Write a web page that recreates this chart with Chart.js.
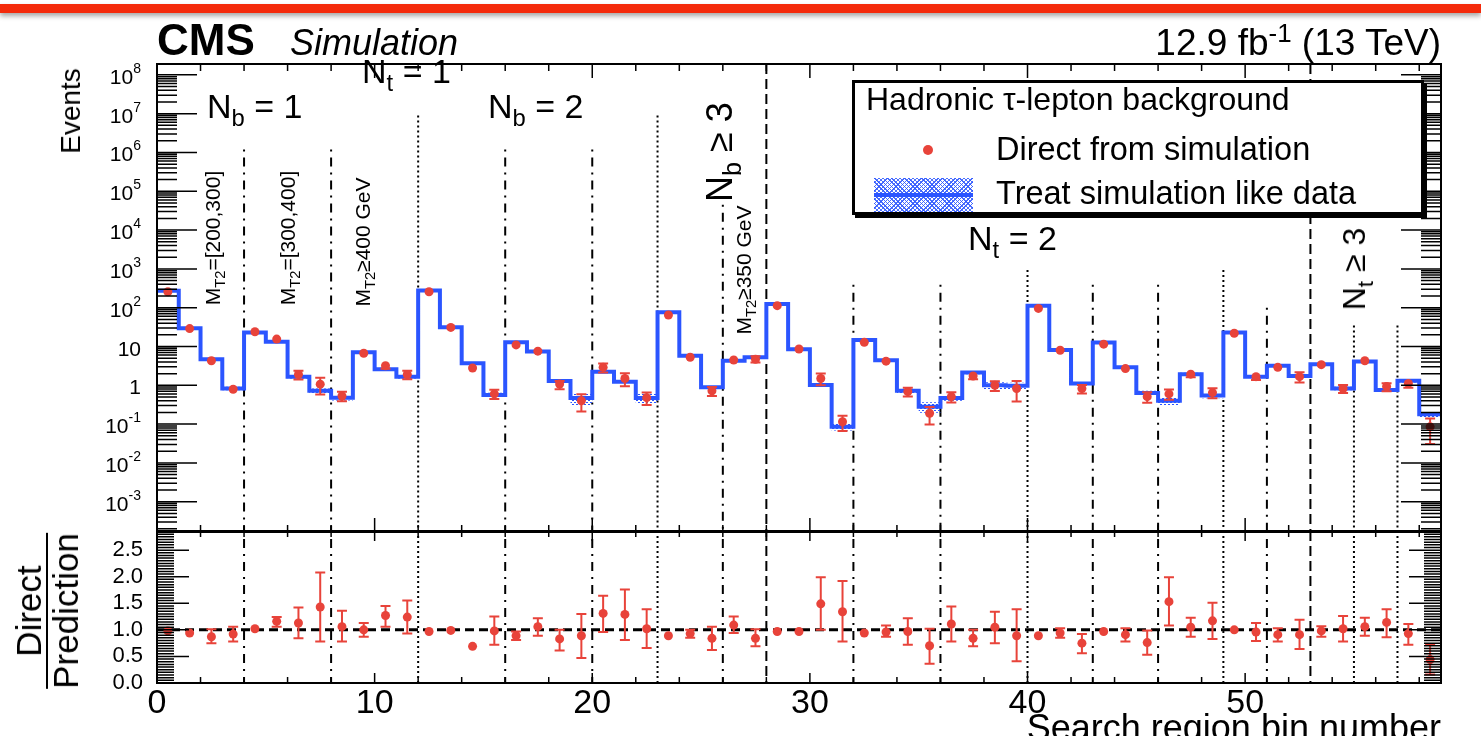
<!DOCTYPE html>
<html lang="en">
<head>
<meta charset="utf-8">
<title>Hadronic tau-lepton background</title>
<script src="https://cdn.jsdelivr.net/npm/chart.js@4.4.1/dist/chart.umd.min.js"></script>
<style>
html, body { margin: 0; padding: 0; background: #fff; }
body { position: relative; width: 1481px; height: 736px; overflow: hidden;
  font-family: "Liberation Sans", Arial, Helvetica, sans-serif; color: #000; }
.slidebar { position: absolute; left: 0; top: 4px; width: 1481px; height: 9px; background: #f42a0b;
  box-shadow: 0 3px 5px rgba(0, 0, 0, 0.35); }
canvas { position: absolute; left: 0; }
#mainPad { top: 0; }
#ratioPad { top: 520px; }
.t { position: absolute; white-space: nowrap; line-height: 1; }
.r { position: absolute; white-space: nowrap; line-height: 1; transform: translate(-50%, -50%) rotate(-90deg); }
sub, sup { font-size: 70%; line-height: 0; position: relative; vertical-align: baseline; }
sub { top: 0.35em; }
sup { top: -0.5em; }
.legend { position: absolute; left: 852px; top: 80px; width: 566px; height: 129px;
  border: 3px solid #000; box-shadow: 3px 3px 0 #000; background: #fff; }
.hatch { position: absolute;
  background:
    repeating-linear-gradient(45deg, rgba(43, 85, 255, 0.85) 0 1px, transparent 1px 3px),
    repeating-linear-gradient(-45deg, rgba(43, 85, 255, 0.85) 0 1px, transparent 1px 3px); }
</style>
</head>
<body>
<div class="slidebar"></div>
<canvas id="mainPad" width="1481" height="540"></canvas>
<canvas id="ratioPad" width="1481" height="216"></canvas>

<!-- header -->
<div class="t" style="left:157px;top:18px;font-size:44px;font-weight:bold">CMS</div>
<div class="t" style="left:290px;top:25px;font-size:36px;font-style:italic">Simulation</div>
<div class="t" style="right:40px;top:24px;font-size:37px">12.9 fb<sup>-1</sup> (13 TeV)</div>

<!-- axis titles -->
<div class="r" style="left:71px;top:111px;font-size:28px">Events</div>
<div class="r" style="left:47px;top:611px;font-size:35px;text-align:center">
  <div style="border-bottom:2px solid #000">Direct</div>
  <div>Prediction</div>
</div>
<div class="t" style="right:40px;top:710px;font-size:36px">Search region bin number</div>

<!-- region labels -->
<div class="t" style="left:207px;top:89px;font-size:34px">N<sub>b</sub> = 1</div>
<div class="t" style="left:362px;top:54px;font-size:34px">N<sub>t</sub> = 1</div>
<div class="t" style="left:488px;top:89px;font-size:34px">N<sub>b</sub> = 2</div>
<div class="r" style="left:720px;top:152px;font-size:36px">N<sub>b</sub> ≥ 3</div>
<div class="t" style="left:968px;top:221px;font-size:34px">N<sub>t</sub> = 2</div>
<div class="r" style="left:1354px;top:269px;font-size:32px">N<sub>t</sub> ≥ 3</div>
<div class="r" style="left:212px;top:238px;font-size:21px">M<sub>T2</sub>=[200,300]</div>
<div class="r" style="left:287px;top:238px;font-size:21px">M<sub>T2</sub>=[300,400]</div>
<div class="r" style="left:362px;top:242px;font-size:21px">M<sub>T2</sub>≥400 GeV</div>
<div class="r" style="left:743px;top:270px;font-size:21px">M<sub>T2</sub>≥350 GeV</div>

<!-- legend -->
<div class="legend"></div>
<div class="t" style="left:866px;top:83px;font-size:32px">Hadronic τ-lepton background</div>
<div style="position:absolute;left:923px;top:145px;width:10px;height:10px;border-radius:50%;background:#e8433a"></div>
<div class="t" style="left:996px;top:133px;font-size:32.5px">Direct from simulation</div>
<div class="hatch" style="left:874px;top:178px;width:99px;height:34px"></div>
<div style="position:absolute;left:874px;top:193px;width:99px;height:4px;background:#2b55ff"></div>
<div class="t" style="left:996px;top:177px;font-size:32.5px">Treat simulation like data</div>

<script>
Chart.defaults.font.family = '"Liberation Sans", Arial, Helvetica, sans-serif';
Chart.defaults.color = '#000';

const FONT = '"Liberation Sans", Arial, Helvetica, sans-serif';
const BLUE = '#2b55ff';
const RED = '#e8433a';

// search region bins 0..58
const nBins = 59;
const binIndex = Array.from({ length: nBins }, (_, i) => i);

// "Treat simulation like data" (blue histogram)
const predicted = [275, 29.5, 4.7, 0.83, 23, 13.3, 1.67, 0.72, 0.48, 7.1,
  2.6, 1.67, 277, 31.5, 3.7, 0.56, 12.8, 7.4, 1.3, 0.47,
  2.24, 1.23, 0.47, 76, 5.8, 0.89, 4.3, 5.3, 125, 8.5,
  1.02, 0.085, 14.7, 4.4, 0.72, 0.28, 0.47, 2.13, 1.0, 0.97,
  113, 8.1, 1.12, 12.6, 2.9, 0.63, 0.40, 1.94, 0.55, 23,
  1.67, 3.2, 1.74, 3.5, 0.83, 4.1, 0.76, 1.32, 0.18];

// relative width of the hatched uncertainty band
const bandFrac = [0.05, 0.05, 0.08, 0.1, 0.05, 0.05, 0.1, 0.15, 0.15, 0.05,
  0.08, 0.1, 0.05, 0.05, 0.08, 0.15, 0.05, 0.05, 0.1, 0.35,
  0.1, 0.12, 0.3, 0.05, 0.05, 0.12, 0.05, 0.05, 0.05, 0.05,
  0.12, 0.2, 0.05, 0.05, 0.12, 0.3, 0.15, 0.1, 0.2, 0.2,
  0.05, 0.05, 0.1, 0.05, 0.08, 0.15, 0.25, 0.08, 0.15, 0.05,
  0.08, 0.08, 0.1, 0.05, 0.1, 0.05, 0.1, 0.1, 0.15];

// "Direct from simulation" (red points)
const direct = [258, 29, 4.3, 0.79, 24, 15.5, 1.9, 1.07, 0.53, 6.7,
  3.2, 1.9, 257, 31, 2.8, 0.6, 11, 7.6, 1.08, 0.40,
  2.9, 1.5, 0.48, 65, 5.3, 0.72, 4.5, 4.7, 113, 8.6,
  1.5, 0.115, 12.8, 4.2, 0.69, 0.19, 0.51, 1.74, 1.0, 0.83,
  96, 8, 0.83, 11.5, 2.7, 0.51, 0.6, 1.94, 0.65, 22,
  1.67, 2.9, 1.67, 3.4, 0.83, 4.3, 0.93, 1.12, 0.085];

// Direct / Prediction with its error bar ends
const ratio = [0.98, 0.94, 0.87, 0.92, 1.02, 1.16, 1.13, 1.43, 1.06, 1.00,
  1.27, 1.24, 0.97, 0.99, 0.69, 0.98, 0.89, 1.06, 0.83, 0.89,
  1.31, 1.29, 1.02, 0.89, 0.93, 0.84, 1.09, 0.84, 0.97, 0.97,
  1.49, 1.34, 0.94, 0.96, 0.97, 0.70, 1.11, 0.84, 1.05, 0.89,
  0.89, 0.94, 0.75, 0.97, 0.91, 0.76, 1.53, 1.05, 1.17, 1.00,
  0.96, 0.91, 0.91, 0.98, 1.02, 1.06, 1.14, 0.93, 0.44];
const ratioLow = [0.96, 0.92, 0.75, 0.78, 1.00, 1.06, 0.84, 0.78, 0.78, 0.87,
  1.06, 0.93, 0.95, 0.97, 0.64, 0.72, 0.81, 0.89, 0.61, 0.47,
  0.96, 0.81, 0.66, 0.87, 0.85, 0.62, 0.94, 0.69, 0.95, 0.95,
  1.00, 0.78, 0.92, 0.87, 0.72, 0.36, 0.78, 0.69, 0.75, 0.41,
  0.87, 0.85, 0.56, 0.95, 0.78, 0.53, 1.08, 0.87, 0.83, 0.98,
  0.79, 0.78, 0.64, 0.87, 0.78, 0.89, 0.86, 0.72, 0.16];
const ratioHigh = [1.00, 0.96, 1.01, 1.06, 1.04, 1.24, 1.42, 2.08, 1.36, 1.13,
  1.45, 1.55, 0.99, 1.01, 0.74, 1.25, 0.97, 1.22, 1.00, 1.30,
  1.64, 1.76, 1.39, 0.91, 1.00, 1.06, 1.25, 1.01, 0.99, 0.99,
  1.99, 1.92, 0.96, 1.08, 1.22, 1.02, 1.44, 1.00, 1.34, 1.39,
  0.91, 1.03, 0.92, 0.99, 1.03, 0.99, 1.99, 1.23, 1.51, 1.02,
  1.13, 1.03, 1.19, 1.07, 1.26, 1.23, 1.39, 1.11, 0.72];

const yTickVals = [1e-3, 1e-2, 1e-1, 1, 10, 1e2, 1e3, 1e4, 1e5, 1e6, 1e7, 1e8];
const yTickLabels = [['10', '-3'], ['10', '-2'], ['10', '-1'], ['1', ''], ['10', ''], ['10', '2'],
  ['10', '3'], ['10', '4'], ['10', '5'], ['10', '6'], ['10', '7'], ['10', '8']];
const xTickVals = [0, 10, 20, 30, 40, 50];
const ratioTickVals = [0, 0.5, 1, 1.5, 2, 2.5];
const ratioTickLabels = ['0.0', '0.5', '1.0', '1.5', '2.0', '2.5'];

// group boundaries: bin edge, line style, and the Events level where the line starts
const dividers = [
  { bin: 4, style: 'dashdot', from: 1.2e6 },
  { bin: 8, style: 'dashdot', from: 1.2e6 },
  { bin: 12, style: 'dotted', from: 9e6 },
  { bin: 16, style: 'dashdot', from: 1.2e6 },
  { bin: 20, style: 'dashdot', from: 1.2e6 },
  { bin: 23, style: 'dotted', from: 9e6 },
  { bin: 26, style: 'dashdot', from: 4.5e4 },
  { bin: 28, style: 'dashed', from: 1e9 },
  { bin: 32, style: 'dashdot', from: 390 },
  { bin: 36, style: 'dashdot', from: 390 },
  { bin: 40, style: 'dotted', from: 930 },
  { bin: 43, style: 'dashdot', from: 390 },
  { bin: 46, style: 'dashdot', from: 390 },
  { bin: 49, style: 'dotted', from: 930 },
  { bin: 51, style: 'dashdot', from: 100 },
  { bin: 53, style: 'dashed', from: 1e9 },
  { bin: 55, style: 'dotted', from: 35 },
  { bin: 57, style: 'dotted', from: 35 }
];
const lineDash = { dotted: [2, 3], dashdot: [2, 6, 9, 6], dashed: [10, 5] };

function hatchPattern() {
  const c = document.createElement('canvas');
  c.width = 4; c.height = 4;
  const g = c.getContext('2d');
  g.fillStyle = BLUE;
  g.fillRect(0, 0, 2, 1);
  g.fillRect(2, 2, 2, 1);
  return g.createPattern(c, 'repeat');
}

// histogram outline: one point per lower bin edge, plus the closing edge
function steps(values) {
  const pts = binIndex.map(i => ({ x: i, y: values[i] }));
  pts.push({ x: nBins, y: values[nBins - 1] });
  return pts;
}

function drawErrors(chart, vals, lo, hi) {
  const { ctx, scales: { x, y } } = chart;
  ctx.save();
  ctx.setLineDash([]);
  ctx.strokeStyle = RED;
  ctx.lineWidth = 2;
  vals.forEach((v, i) => {
    const px = x.getPixelForValue(i + 0.5);
    const p0 = y.getPixelForValue(v);
    const pl = y.getPixelForValue(lo[i]);
    const ph = y.getPixelForValue(hi[i]);
    ctx.beginPath();
    ctx.moveTo(px, pl);
    ctx.lineTo(px, ph);
    if (pl - p0 > 3) { ctx.moveTo(px - 5, pl); ctx.lineTo(px + 5, pl); }
    if (p0 - ph > 3) { ctx.moveTo(px - 5, ph); ctx.lineTo(px + 5, ph); }
    ctx.stroke();
  });
  ctx.restore();
}

const rootPad = {
  id: 'rootPad',
  beforeDatasetsDraw(chart, args, opts) {
    const { ctx, chartArea: a, scales: { x, y } } = chart;
    ctx.save();
    ctx.strokeStyle = '#000';
    ctx.lineWidth = 2;
    dividers.forEach(d => {
      const px = x.getPixelForValue(d.bin);
      const top = opts.panel === 'main' ? Math.max(a.top, y.getPixelForValue(d.from)) : a.top;
      ctx.setLineDash(lineDash[d.style]);
      ctx.beginPath();
      ctx.moveTo(px, top);
      ctx.lineTo(px, a.bottom);
      ctx.stroke();
    });
    if (opts.panel === 'ratio') {
      ctx.setLineDash([9, 5]);
      ctx.lineWidth = 3;
      const py = y.getPixelForValue(1);
      ctx.beginPath();
      ctx.moveTo(a.left, py);
      ctx.lineTo(a.right, py);
      ctx.stroke();
      drawErrors(chart, ratio, ratioLow, ratioHigh);
    }
    ctx.restore();
  },
  afterDatasetDraw(chart, args, opts) {
    if (opts.panel !== 'main' || chart.data.datasets[args.index].id !== 'pred') return;
    const lo = direct.map((v, i) => v * ratioLow[i] / ratio[i]);
    const hi = direct.map((v, i) => v * ratioHigh[i] / ratio[i]);
    drawErrors(chart, direct, lo, hi);
  },
  afterDraw(chart, args, opts) {
    const { ctx, chartArea: a, scales: { x, y } } = chart;
    const main = opts.panel === 'main';
    ctx.save();
    ctx.strokeStyle = '#000';
    ctx.setLineDash([]);

    // x ticks, inside, top and bottom
    ctx.lineWidth = 1.5;
    ctx.beginPath();
    for (let v = 2; v < nBins; v += 2) {
      const px = x.getPixelForValue(v);
      const len = v % 10 === 0 ? (main ? 14 : 10) : (main ? 7 : 6);
      ctx.moveTo(px, a.bottom); ctx.lineTo(px, a.bottom - len);
      ctx.moveTo(px, a.top); ctx.lineTo(px, a.top + len);
    }
    // y ticks, inside, left and right
    if (main) {
      for (let k = -4; k <= 8; k++) {
        for (let m = 1; m <= 9; m++) {
          const v = m * Math.pow(10, k);
          if (v < y.min || v > y.max) continue;
          const py = y.getPixelForValue(v);
          const len = m === 1 ? 40 : 20;
          ctx.moveTo(a.left, py); ctx.lineTo(a.left + len, py);
          ctx.moveTo(a.right, py); ctx.lineTo(a.right - len, py);
        }
      }
    } else {
      for (let j = 1; j * 0.05 < y.max; j++) {
        const py = y.getPixelForValue(j * 0.05);
        const len = j % 10 === 0 ? 32 : 17;
        ctx.moveTo(a.left, py); ctx.lineTo(a.left + len, py);
        ctx.moveTo(a.right, py); ctx.lineTo(a.right - len, py);
      }
    }
    ctx.stroke();

    // frame
    ctx.lineWidth = 2;
    ctx.strokeRect(a.left, a.top, a.right - a.left, a.bottom - a.top);

    // log axis labels with exponents
    if (main) {
      ctx.fillStyle = '#000';
      ctx.textAlign = 'right';
      ctx.textBaseline = 'alphabetic';
      yTickVals.forEach((v, i) => {
        const py = y.getPixelForValue(v);
        const [base, exp] = yTickLabels[i];
        let xr = a.left - 16;
        if (exp) {
          ctx.font = '14px ' + FONT;
          ctx.fillText(exp, xr, py - 2);
          xr -= ctx.measureText(exp).width;
        }
        ctx.font = '21px ' + FONT;
        ctx.fillText(base, xr, py + 9);
      });
    }
    ctx.restore();
  }
};

// keep the plot frame exactly where the layout padding puts it
function fixWidth(s) {
  s.width = 157;
  s.paddingTop = 0;
  s.paddingBottom = 0;
}
function fixHeight(s) {
  s.height = 53;
  s.paddingLeft = 0;
  s.paddingRight = 0;
}

const band = hatchPattern();

new Chart(document.getElementById('mainPad'), {
  type: 'line',
  data: {
    datasets: [
      {
        id: 'bandUp',
        data: steps(predicted.map((v, i) => v * (1 + bandFrac[i]))),
        stepped: 'before', borderWidth: 0, pointRadius: 0, fill: false, order: 3
      },
      {
        id: 'bandDown',
        data: steps(predicted.map((v, i) => v * (1 - bandFrac[i]))),
        stepped: 'before', borderWidth: 0, pointRadius: 0, fill: '-1', backgroundColor: band, order: 3
      },
      {
        id: 'pred',
        label: 'Treat simulation like data',
        data: steps(predicted),
        stepped: 'before', borderColor: BLUE, borderWidth: 4, pointRadius: 0, fill: false, order: 2
      },
      {
        id: 'direct',
        label: 'Direct from simulation',
        data: binIndex.map(i => ({ x: i + 0.5, y: direct[i] })),
        showLine: false, pointRadius: 4.5, pointBorderWidth: 0,
        pointBackgroundColor: RED, pointBorderColor: RED, order: 1
      }
    ]
  },
  options: {
    responsive: false,
    animation: false,
    layout: { padding: { top: 64, right: 40, bottom: 8, left: 0 } },
    plugins: {
      legend: { display: false },
      tooltip: { enabled: false },
      rootPad: { panel: 'main' }
    },
    scales: {
      x: { type: 'linear', min: 0, max: nBins, display: false },
      y: {
        type: 'logarithmic',
        min: Math.pow(10, -3.78),
        max: Math.pow(10, 8.28),
        afterBuildTicks: s => { s.ticks = yTickVals.map(v => ({ value: v })); },
        afterFit: fixWidth,
        ticks: { display: false },
        grid: { display: false, drawTicks: false },
        border: { display: false }
      }
    }
  },
  plugins: [rootPad]
});

new Chart(document.getElementById('ratioPad'), {
  type: 'scatter',
  data: {
    datasets: [{
      label: 'Direct / Prediction',
      data: binIndex.map(i => ({ x: i + 0.5, y: ratio[i] })),
      pointRadius: 4.5, pointBorderWidth: 0,
      pointBackgroundColor: RED, pointBorderColor: RED
    }]
  },
  options: {
    responsive: false,
    animation: false,
    layout: { padding: { top: 11, right: 40, bottom: 0, left: 0 } },
    plugins: {
      legend: { display: false },
      tooltip: { enabled: false },
      rootPad: { panel: 'ratio' }
    },
    scales: {
      x: {
        type: 'linear', min: 0, max: nBins,
        afterBuildTicks: s => { s.ticks = xTickVals.map(v => ({ value: v })); },
        afterFit: fixHeight,
        grid: { display: false, drawTicks: false },
        border: { display: false },
        ticks: { font: { size: 34 }, color: '#000', padding: 0, maxRotation: 0, autoSkip: false,
          callback: v => String(v) }
      },
      y: {
        type: 'linear', min: 0, max: 2.86,
        afterBuildTicks: s => { s.ticks = ratioTickVals.map(v => ({ value: v })); },
        afterFit: fixWidth,
        grid: { display: false, drawTicks: false },
        border: { display: false },
        ticks: { font: { size: 22 }, color: '#000', padding: 14, autoSkip: false,
          callback: (v, i) => ratioTickLabels[i] }
      }
    }
  },
  plugins: [rootPad]
});
</script>
</body>
</html>
